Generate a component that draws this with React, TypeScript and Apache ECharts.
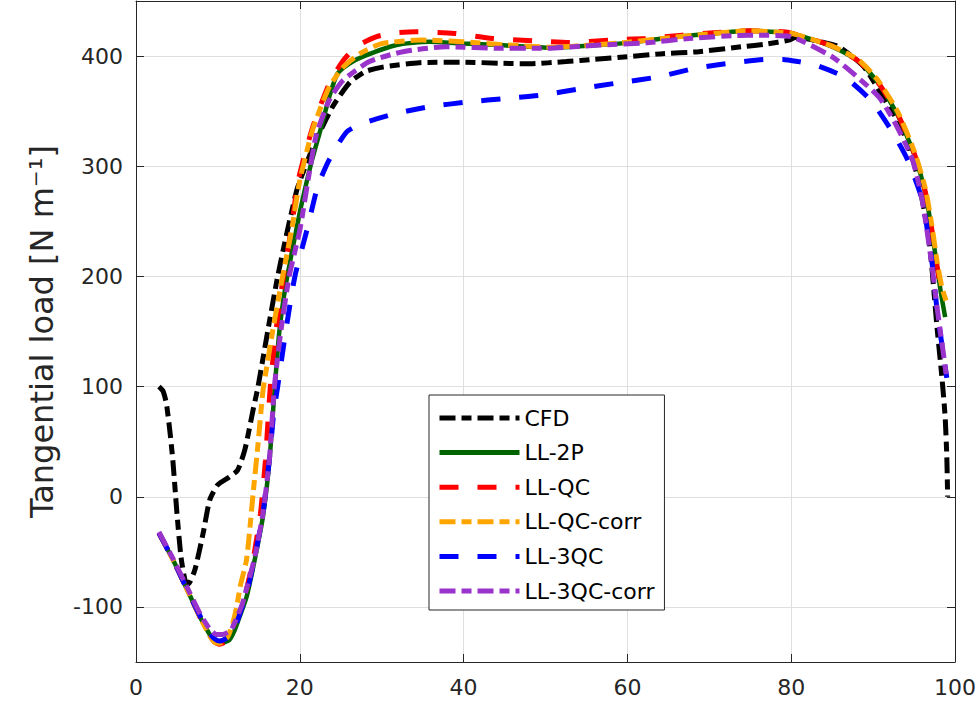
import React, { useEffect, useRef } from "react";
import * as echarts from "echarts";

const X_TICKS = [0, 20, 40, 60, 80, 100];
const Y_TICKS = [-100, 0, 100, 200, 300, 400];
const SERIES_NAMES = ["CFD", "LL-2P", "LL-QC", "LL-QC-corr", "LL-3QC", "LL-3QC-corr"];

const cfd = [
  [2.8, 100], [3.3, 96], [3.7, 85], [4.1, 62], [4.5, 33], [5.0, -15], [5.5, -55], [6.0, -76], [6.4, -79],
  [7.2, -66], [8.2, -33], [9.0, -3], [10.0, 11], [11.4, 18], [12.4, 24], [13.3, 43], [14.3, 79],
  [14.9, 100], [16.1, 151], [17.3, 200], [18.5, 242], [19.7, 280], [21.0, 306], [22.0, 324],
  [24.0, 354], [26.1, 376], [28.0, 386], [30.1, 390], [34.6, 394], [40.0, 394.5], [44.4, 393.5],
  [48.0, 393], [52.5, 395], [56.0, 397], [60.0, 399.5], [64.0, 402], [68.7, 404], [74.0, 408.5],
  [77.0, 411], [79.7, 414.5], [80.6, 417], [83.0, 414], [85.8, 408.5], [88.9, 390], [91.2, 363],
  [93.4, 336], [95.1, 300], [96.4, 254], [97.0, 222], [97.8, 154], [98.2, 124], [98.5, 100],
  [98.8, 72], [99.0, 36], [99.1, 0],
];

const ll2p = [
  [2.8, -33], [4.5, -57], [6.1, -82], [7.8, -109], [9.0, -125], [9.6, -131], [10.2, -133], [11.4, -130],
  [12.0, -122], [12.6, -110], [13.5, -91], [14.5, -57], [15.5, -18], [16.3, 33], [16.9, 95], [17.5, 150],
  [18.3, 193], [19.3, 232], [20.2, 265], [21.4, 303], [22.6, 335], [23.6, 363], [24.6, 384], [26.0, 393],
  [27.7, 399.5], [31.8, 410], [35.8, 413], [39.9, 411.5], [44.4, 410], [48.0, 408.5], [50.4, 407.5],
  [56.5, 410], [60.0, 412], [65.5, 417], [71.2, 421], [74.8, 423], [78.9, 421.5], [80.1, 420.6],
  [85.0, 408.5], [88.3, 395], [90.7, 375], [93.1, 345], [95.1, 309], [96.4, 275], [97.2, 240],
  [97.8, 209], [98.3, 184], [98.8, 163],
];

const llqc = [
  [2.8, -33], [4.5, -57], [6.1, -82], [7.8, -109], [9.0, -126], [9.6, -132], [10.2, -134], [11.2, -130],
  [12.0, -115], [12.6, -106], [13.3, -90], [14.3, -57], [15.2, -15], [15.8, 33], [16.4, 100], [17.1, 151],
  [18.0, 200], [19.0, 245], [19.8, 287], [21.6, 336], [23.6, 375], [25.3, 396], [27.0, 409], [29.3, 417.5],
  [31.5, 421], [34.2, 422], [38.9, 420.6], [43.5, 416], [48.4, 414], [52.9, 412.4], [57.8, 414.5],
  [62.2, 416], [66.7, 419], [71.0, 421.5], [75.0, 423], [79.0, 422], [80.1, 420.6], [85.0, 409],
  [88.3, 395], [90.7, 375], [93.1, 346], [95.1, 310], [96.4, 276], [97.2, 241], [97.8, 210], [98.3, 187],
];

const llqcCorr = [
  [2.8, -33], [4.5, -57], [6.1, -82], [7.8, -109], [9.0, -126], [9.6, -132], [10.2, -133], [11.2, -127],
  [11.8, -115], [12.3, -100], [12.7, -82], [13.5, -57], [14.3, 3], [14.9, 48], [15.5, 96], [16.1, 124],
  [16.7, 151], [17.9, 200], [19.0, 242], [20.0, 287], [21.6, 334], [23.6, 372], [25.3, 390], [27.5, 403],
  [30.1, 411.5], [35.0, 414.5], [39.9, 413], [44.4, 410.5], [48.0, 409], [50.4, 408], [56.5, 410.5],
  [60.0, 412.5], [65.5, 417], [71.2, 421], [74.8, 423], [78.9, 421.5], [80.1, 420.6], [85.0, 409],
  [88.3, 396], [90.7, 377], [93.1, 348], [95.1, 312], [96.4, 279], [97.2, 245], [97.8, 214], [98.4, 190],
  [98.9, 178],
];

const ll3qc = [
  [2.8, -33], [4.5, -57], [6.1, -82], [7.8, -108], [9.0, -124], [9.6, -129], [10.2, -131], [11.4, -127],
  [12.0, -120], [12.6, -108], [13.5, -88], [14.5, -55], [15.5, -15], [16.3, 35], [16.8, 75], [17.3, 100],
  [18.3, 151], [19.4, 200], [20.9, 243], [22.2, 282], [23.6, 306], [25.7, 331], [27.7, 339], [31.8, 348],
  [35.8, 354], [40.7, 358.5], [45.2, 361.6], [49.6, 364.6], [54.5, 370.7], [59.0, 375.8], [63.7, 381],
  [68.3, 389], [72.0, 393], [76.9, 397], [79.0, 397], [80.9, 395], [82.9, 392], [86.5, 381], [89.7, 360],
  [92.2, 333], [94.2, 306], [96.0, 269], [97.2, 212], [97.8, 170], [98.4, 138], [99.0, 108],
];

const ll3qcCorr = [
  [2.8, -32], [4.5, -56], [6.1, -80], [7.8, -106], [9.0, -120], [9.8, -125], [10.6, -125], [11.6, -121],
  [12.3, -110], [13.0, -97], [13.8, -75], [14.5, -55], [15.5, -15], [16.3, 35], [16.9, 100], [17.7, 151],
  [18.7, 200], [20.0, 242], [21.0, 287], [22.0, 328], [23.6, 360], [25.3, 378], [28.5, 395], [32.6, 404],
  [37.9, 408.5], [44.4, 407], [49.6, 407], [56.5, 410], [62.2, 412], [67.5, 416], [74.8, 419],
  [79.7, 418], [85.0, 399.4], [87.6, 384], [90.7, 363], [92.7, 339], [94.8, 306], [96.0, 269],
  [97.2, 209], [97.8, 172], [98.4, 140], [99.0, 107],
];

const SERIES_DATA = [cfd, ll2p, llqc, llqcCorr, ll3qc, ll3qcCorr];
const COLORS = ["#000000", "#006400", "#ff0000", "#ffa500", "#0000ff", "#9933cc"];
const DASH_DOT = [16, 6, 10, 6];
const DASH = [19, 19];
const LINE_TYPES: any[] = [DASH_DOT, "solid", DASH, DASH_DOT, DASH, DASH_DOT];
const LINE_WIDTHS = [5, 4.5, 5, 5, 5, 5];

const FONT = "DejaVu Sans";
const AXIS_COLOR = "#262626";
const GRID_COLOR = "#dfdfdf";

export default function App() {
  const ref = useRef<HTMLDivElement>(null);

  useEffect(() => {
    if (!ref.current) return;
    const chart = echarts.init(ref.current, undefined, { renderer: "svg" });

    const baseX = {
      type: "value",
      min: X_TICKS[0],
      max: X_TICKS[X_TICKS.length - 1],
      interval: 20,
    };
    const baseY = {
      type: "value",
      min: -150,
      max: 450,
      splitNumber: 6,
    };

    const option: any = {
      animation: false,
      backgroundColor: "#ffffff",
      grid: { left: 136, right: 23, top: 1, bottom: 43, containLabel: false },
      xAxis: [
        {
          ...baseX,
          position: "bottom",
          axisLine: { show: true, onZero: false, lineStyle: { color: AXIS_COLOR, width: 1 } },
          axisTick: { show: true, inside: true, length: 8, lineStyle: { color: AXIS_COLOR } },
          axisLabel: {
            show: true,
            margin: 14,
            color: AXIS_COLOR,
            fontSize: 22,
            fontFamily: FONT,
          },
          splitLine: { show: true, lineStyle: { color: GRID_COLOR, width: 1 } },
        },
        {
          ...baseX,
          position: "top",
          axisLine: { show: true, onZero: false, lineStyle: { color: AXIS_COLOR, width: 1 } },
          axisTick: { show: true, inside: true, length: 8, lineStyle: { color: AXIS_COLOR } },
          axisLabel: { show: false },
          splitLine: { show: false },
        },
      ],
      yAxis: [
        {
          ...baseY,
          position: "left",
          name: "Tangential load [N m⁻¹]",
          nameLocation: "middle",
          nameGap: 78,
          nameTextStyle: { fontSize: 32, fontFamily: FONT, color: AXIS_COLOR },
          axisLine: { show: true, onZero: false, lineStyle: { color: AXIS_COLOR, width: 1 } },
          axisTick: {
            show: true,
            inside: true,
            length: 8,
            customValues: Y_TICKS,
            lineStyle: { color: AXIS_COLOR },
          },
          axisLabel: {
            show: true,
            margin: 13,
            color: AXIS_COLOR,
            fontSize: 22,
            fontFamily: FONT,
            customValues: Y_TICKS,
          },
          splitLine: { show: true, lineStyle: { color: GRID_COLOR, width: 1 } },
        },
        {
          ...baseY,
          position: "right",
          axisLine: { show: true, onZero: false, lineStyle: { color: AXIS_COLOR, width: 1 } },
          axisTick: {
            show: true,
            inside: true,
            length: 8,
            customValues: Y_TICKS,
            lineStyle: { color: AXIS_COLOR },
          },
          axisLabel: { show: false },
          splitLine: { show: false },
        },
      ],
      legend: {
        orient: "vertical",
        left: 429,
        top: 395,
        padding: [12, 10, 8, 8],
        itemWidth: 80,
        itemHeight: 20,
        itemGap: 12.6,
        selectedMode: false,
        backgroundColor: "#ffffff",
        borderColor: AXIS_COLOR,
        borderWidth: 1,
        borderRadius: 0,
        itemStyle: { opacity: 0 },
        lineStyle: { width: 5 },
        textStyle: { fontSize: 22, fontFamily: FONT, color: "#000000", lineHeight: 20 },
        data: SERIES_NAMES,
      },
      series: SERIES_NAMES.map((name, i) => ({
        name,
        type: "line",
        xAxisIndex: 0,
        yAxisIndex: 0,
        data: SERIES_DATA[i],
        symbol: "none",
        showSymbol: false,
        smooth: 0.2,
        clip: true,
        color: COLORS[i],
        lineStyle: { color: COLORS[i], width: LINE_WIDTHS[i], type: LINE_TYPES[i], cap: "butt" },
      })),
    };

    chart.setOption(option);
    return () => chart.dispose();
  }, []);

  return (
    <div
      ref={ref}
      style={{ position: "fixed", left: 0, top: 0, width: 979, height: 705, background: "#fff" }}
    />
  );
}
